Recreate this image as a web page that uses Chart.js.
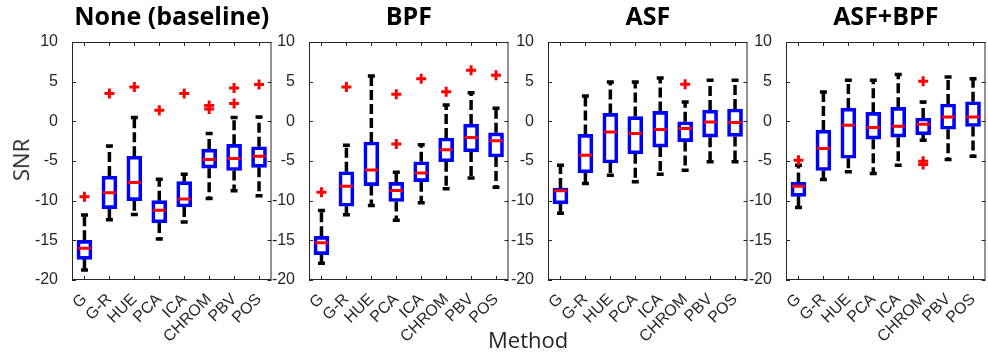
<!DOCTYPE html>
<html>
<head>
<meta charset="utf-8">
<script src="https://cdn.jsdelivr.net/npm/chart.js@4.4.1/dist/chart.umd.min.js"></script>
<style>
  html, body { margin: 0; padding: 0; background: #fff; overflow: hidden; }
  #wrap { position: relative; width: 988px; height: 353px; }
  canvas { position: absolute; top: 0; }
  .lbl { position: absolute; font-family: "Open Sans", sans-serif; font-size: 21px; color: #262626; white-space: nowrap; }
</style>
</head>
<body>
<div id="wrap">
  <canvas id="c0" width="254" height="353"></canvas>
  <canvas id="c1" width="254" height="353"></canvas>
  <canvas id="c2" width="254" height="353"></canvas>
  <canvas id="c3" width="254" height="353"></canvas>
  <div class="lbl" id="ylab" style="left:-1px; top:145px; font-size:22px; transform: rotate(-90deg);">SNR</div>
  <div class="lbl" id="xlab" style="left:488px; top:324px; font-size:22px;">Method</div>
</div>
<script>
// categories and panel titles
const methods = ['G', 'G-R', 'HUE', 'PCA', 'ICA', 'CHROM', 'PBV', 'POS'];
const panelTitles = ['None (baseline)', 'BPF', 'ASF', 'ASF+BPF'];
const yTicks = [-20, -15, -10, -5, 0, 5, 10];

// None (baseline)
const noneLo  = [-18.75, -12.4, -11.74, -14.84, -12.7, -9.72, -8.76, -9.39];
const noneQ1  = [-17.4, -11.0, -10.0, -12.8, -10.8, -5.9, -6.2, -5.8];
const noneMed = [-16.0, -9.0, -7.7, -11.2, -9.8, -4.8, -4.7, -4.4];
const noneQ3  = [-15.0, -6.9, -4.4, -10.0, -7.6, -3.5, -2.9, -3.2];
const noneHi  = [-11.8, -3.1, 0.47, -7.3, -6.66, -1.54, 0.47, 0.56];
const noneOut = [[-9.5], [3.5], [4.33], [1.4], [3.5], [2.0, 1.57], [4.2, 2.24], [4.63]];

// BPF
const bpfLo  = [-17.9, -11.77, -10.6, -12.48, -10.27, -8.5, -7.13, -8.3];
const bpfQ1  = [-16.8, -10.7, -8.1, -10.1, -7.6, -5.1, -3.85, -4.5];
const bpfMed = [-15.3, -8.18, -6.13, -8.72, -6.5, -3.58, -2.04, -2.45];
const bpfQ3  = [-14.5, -6.35, -2.6, -7.7, -5.1, -2.1, -0.35, -1.45];
const bpfHi  = [-11.23, -3.0, 5.7, -6.42, -2.95, 2.06, 3.6, 1.64];
const bpfOut = [[-8.93], [4.32], [], [3.4, -2.87], [5.36], [3.73], [6.45], [5.82]];

// ASF
const asfLo  = [-11.6, -7.83, -6.79, -7.63, -6.66, -6.16, -5.1, -5.1];
const asfQ1  = [-10.4, -6.5, -5.25, -4.1, -3.25, -2.55, -2.0, -1.9];
const asfMed = [-8.76, -4.27, -1.33, -1.54, -1.04, -0.91, -0.07, -0.16];
const asfQ3  = [-8.4, -1.65, 1.0, 0.6, 1.25, -0.05, 1.42, 1.55];
const asfHi  = [-5.53, 3.2, 4.95, 4.95, 5.47, 2.45, 5.17, 5.17];
const asfOut = [[], [], [], [], [], [4.67], [], []];

// ASF+BPF
const bothLo  = [-10.86, -7.33, -6.37, -6.58, -5.53, -2.38, -4.81, -4.39];
const bothQ1  = [-9.45, -6.2, -4.65, -2.25, -2.0, -1.7, -1.0, -0.65];
const bothMed = [-8.17, -3.43, -0.49, -0.78, -0.62, -0.37, 0.56, 0.56];
const bothQ3  = [-7.7, -1.1, 1.67, 1.13, 1.76, 0.42, 2.18, 2.47];
const bothHi  = [-5.53, 3.7, 5.17, 5.17, 5.89, 2.45, 5.6, 5.38];
const bothOut = [[-4.9], [], [], [], [], [5.05, -5.02, -5.44], [], []];

const panels = [
  { lo: noneLo, q1: noneQ1, med: noneMed, q3: noneQ3, hi: noneHi, out: noneOut },
  { lo: bpfLo, q1: bpfQ1, med: bpfMed, q3: bpfQ3, hi: bpfHi, out: bpfOut },
  { lo: asfLo, q1: asfQ1, med: asfMed, q3: asfQ3, hi: asfHi, out: asfOut },
  { lo: bothLo, q1: bothQ1, med: bothMed, q3: bothQ3, hi: bothHi, out: bothOut },
];

const plotLefts = [72, 309, 548, 786];
const AXIS_W = 45;
const ink = '#262626';

// frame + inward ticks, matlab style
const framePlugin = {
  id: 'frame',
  beforeDatasetsDraw(chart) {
    const { ctx, chartArea: a, scales: { x, y } } = chart;
    ctx.save();
    ctx.strokeStyle = ink;
    ctx.lineWidth = 1;
    ctx.strokeRect(a.left + 0.5, a.top + 0.5, a.width - 1, a.height - 1);
    ctx.beginPath();
    y.ticks.forEach((t, i) => {
      const py = Math.round(y.getPixelForTick(i)) + 0.5;
      ctx.moveTo(a.left, py); ctx.lineTo(a.left + 4, py);
      ctx.moveTo(a.right, py); ctx.lineTo(a.right - 4, py);
    });
    x.ticks.forEach((t, i) => {
      const px = Math.round(x.getPixelForTick(i)) + 0.5;
      ctx.moveTo(px, a.bottom); ctx.lineTo(px, a.bottom - 4);
      ctx.moveTo(px, a.top); ctx.lineTo(px, a.top + 4);
    });
    ctx.stroke();
    ctx.restore();
  }
};

function buildChart(idx) {
  const p = panels[idx];
  const canvas = document.getElementById('c' + idx);
  canvas.style.left = (plotLefts[idx] - AXIS_W) + 'px';

  const whiskers = [];
  const caps = [];
  const outliers = [];
  methods.forEach((m, i) => {
    whiskers.push({ x: m, y: p.q3[i] }, { x: m, y: p.hi[i] }, { x: m, y: null });
    whiskers.push({ x: m, y: p.q1[i] }, { x: m, y: p.lo[i] }, { x: m, y: null });
    caps.push({ x: m, y: p.hi[i] }, { x: m, y: p.lo[i] });
    p.out[i].forEach(v => outliers.push({ x: m, y: v }));
  });

  return new Chart(canvas, {
    type: 'bar',
    data: {
      labels: methods,
      datasets: [
        {
          type: 'line',
          data: whiskers,
          borderColor: '#000',
          borderWidth: 3.5,
          borderDash: [10, 4],
          pointRadius: 0,
          spanGaps: false,
          order: 4,
        },
        {
          type: 'bar',
          data: methods.map((m, i) => [p.q1[i], p.q3[i]]),
          backgroundColor: 'rgba(255,255,255,0)',
          borderColor: '#0000ff',
          borderWidth: 3,
          borderSkipped: false,
          barThickness: 15,
          order: 3,
        },
        {
          type: 'line',
          data: caps,
          showLine: false,
          pointStyle: 'line',
          pointRadius: 3.5,
          pointBorderWidth: 3.5,
          pointBorderColor: '#000',
          order: 2,
        },
        {
          type: 'line',
          data: methods.map((m, i) => ({ x: m, y: p.med[i] })),
          showLine: false,
          pointStyle: 'line',
          pointRadius: 6.5,
          pointBorderWidth: 3,
          pointBorderColor: '#ff0000',
          order: 1,
        },
        {
          type: 'line',
          data: outliers,
          showLine: false,
          pointStyle: 'cross',
          pointRadius: 5,
          pointBorderWidth: 3,
          pointBorderColor: '#ff0000',
          order: 0,
        },
      ],
    },
    options: {
      responsive: false,
      animation: false,
      events: [],
      layout: { padding: { left: 0, right: 6, top: 0, bottom: 0 } },
      plugins: {
        legend: { display: false },
        tooltip: { enabled: false },
        title: {
          display: true,
          text: panelTitles[idx],
          fullSize: false,
          color: '#000',
          font: { family: 'Open Sans', size: 25, weight: 'bold', lineHeight: 1.2 },
          padding: { top: 3, bottom: 9 },
        },
      },
      scales: {
        x: {
          grid: { display: false },
          border: { display: false },
          ticks: {
            color: ink,
            autoSkip: false,
            minRotation: 45,
            maxRotation: 45,
            padding: 2,
            font: { family: 'Liberation Sans', size: 16 },
          },
          afterFit: s => { s.height = 73; },
        },
        y: {
          min: -20,
          max: 10,
          afterBuildTicks: s => { s.ticks = yTicks.map(v => ({ value: v })); },
          grid: { display: false },
          border: { display: false },
          ticks: {
            color: ink,
            padding: 6,
            font: { family: 'Liberation Sans', size: 16 },
          },
          afterFit: s => { s.width = AXIS_W; },
        },
      },
    },
    plugins: [framePlugin],
  });
}

panelTitles.forEach((t, i) => buildChart(i));
</script>
</body>
</html>
